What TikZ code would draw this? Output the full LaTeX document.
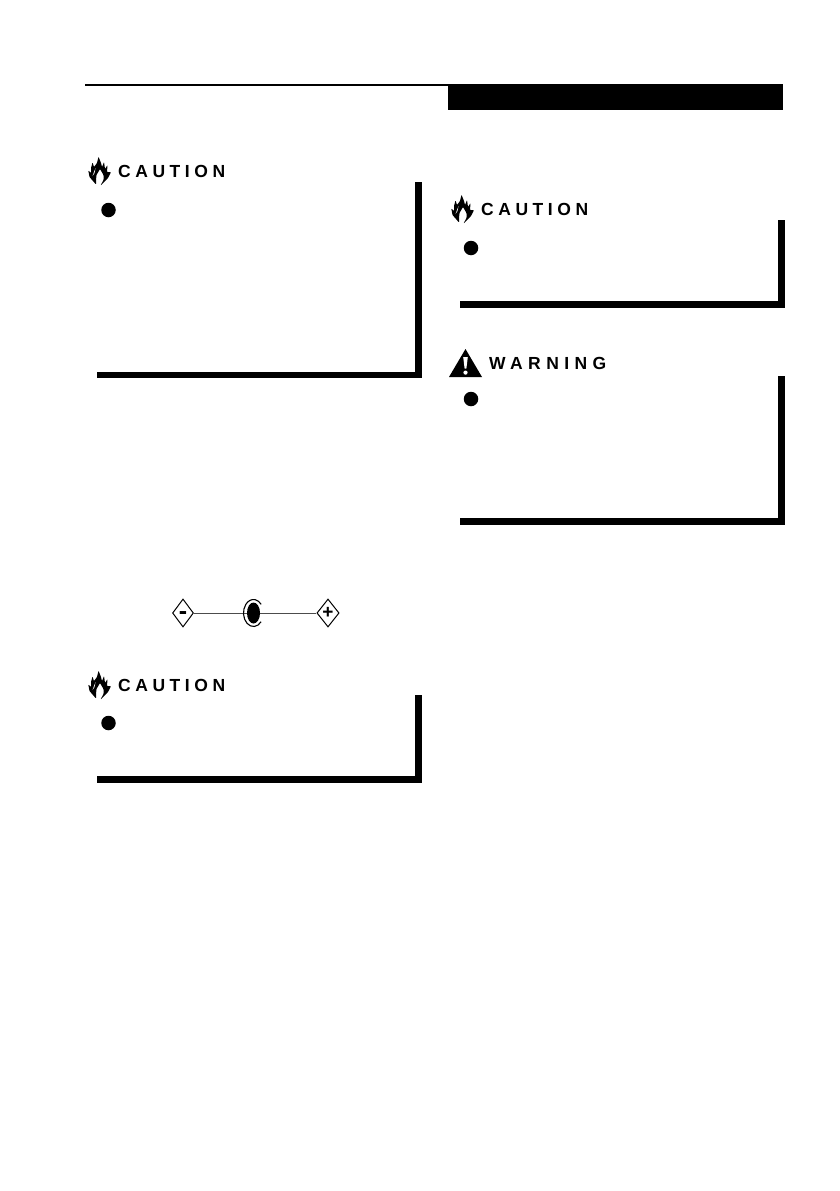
\documentclass[tikz,border=0pt]{standalone}
\usepackage{fontspec}
\usetikzlibrary{shapes.geometric}
\newfontfamily\cautionfont[LetterSpace=26]{Liberation Sans}
\newfontfamily\warningfont[LetterSpace=31]{Liberation Sans}
\newfontfamily\polefont{Liberation Sans}
\tikzset{
  signtext/.style={anchor=west,inner sep=0pt},
  cautiontext/.style={signtext,font=\cautionfont\bfseries\fontsize{17.5}{18}\selectfont},
  warningtext/.style={signtext,font=\warningfont\bfseries\fontsize{17.5}{18}\selectfont},
  bullet/.style={circle,fill=black,inner sep=0pt,minimum size=14.5pt},
  bar/.style={line width=6.5pt,miter limit=10},
  pole/.style={draw,diamond,inner sep=0pt,minimum width=21pt,minimum height=28pt,line width=1pt},
  jack/.style={ellipse,fill=black,inner sep=0pt,minimum width=13pt,minimum height=21pt},
  wire/.style={line width=1pt,black!70},
  flame/.pic={
    \fill[rounded corners=0.7pt] (8,28.5) -- (1.5,21) -- (0.3,14.5) -- (3,17) -- (3,12) -- (4.5,6.5) -- (6,11)
      -- (9,7) -- (10.5,0.7) -- (13,7) -- (14,11) -- (16,6) -- (17,13) -- (19.5,9) -- (19,16) -- (23,16)
      -- (20,22) -- (15,27) -- (12.5,29.5) -- (15.5,24) -- (15.5,19) -- (12,13) -- (8.5,19) -- (8,24) -- cycle;
    \fill[white] (4.5,20) -- (7.5,12) -- (6.5,17) -- cycle;
  },
  alertmark/.pic={
    \fill (16.5,0) -- (33,28) -- (0,28) -- cycle;
    \fill[white] (14.2,8) -- (18.8,8) -- (17.4,19.5) -- (15.6,19.5) -- cycle;
    \fill[white] (16.5,23.6) circle (2.1);
  }
}
\begin{document}
\begin{tikzpicture}[x=1pt,y=-1pt]
  \useasboundingbox (0,0) rectangle (839,1191);
  % header
  \draw[line width=1.8pt] (85,84.8) -- (448,84.8);
  \fill (448,84) rectangle (783,110);
  % framed notes
  \def \Bars{
    97/418.5/182/375,
    97/418.5/695/779.5,
    460/781.5/220/304.5,
    460/781.5/376/521.5}
  \foreach \xa / \xb / \ya / \yb in \Bars{
    \draw[bar] (\xa,\yb) -- (\xb,\yb) -- (\xb,\ya);
  }
  % caution labels
  \def \Cautions{
    a/88/156,
    b/451/194,
    c/88/670}
  \foreach \id / \x / \y in \Cautions{
    \pic at (\x,\y) {flame};
    \node[cautiontext] (caution\id) at (\x+30,\y+15.5) {CAUTION};
  }
  \pic at (449,349) {alertmark};
  \node[warningtext] (warning) at (489,363.5) {WARNING};
  % bullets
  \def \Bullets{
    a/108.5/210,
    b/471/248,
    c/471/399,
    d/108.5/723}
  \foreach \id / \x / \y in \Bullets{
    \node[bullet] (bullet\id) at (\x,\y) {};
  }
  % polarity
  \node[pole,text height=12.5pt,text depth=0pt,font=\polefont\bfseries\fontsize{25}{25}\selectfont] (minus) at (183,613) {-};
  \node[pole,font=\polefont\bfseries\fontsize{19}{19}\selectfont] (plus) at (328,613) {+};
  \node[jack] (centre) at (253.5,613) {};
  \draw[wire] (minus) -- (centre) -- (plus);
  \draw[line width=1.1pt] ([shift={(7.66,8.68)}]centre.center) arc[start angle=40,end angle=320,x radius=10,y radius=13.5];
\end{tikzpicture}
\end{document}
